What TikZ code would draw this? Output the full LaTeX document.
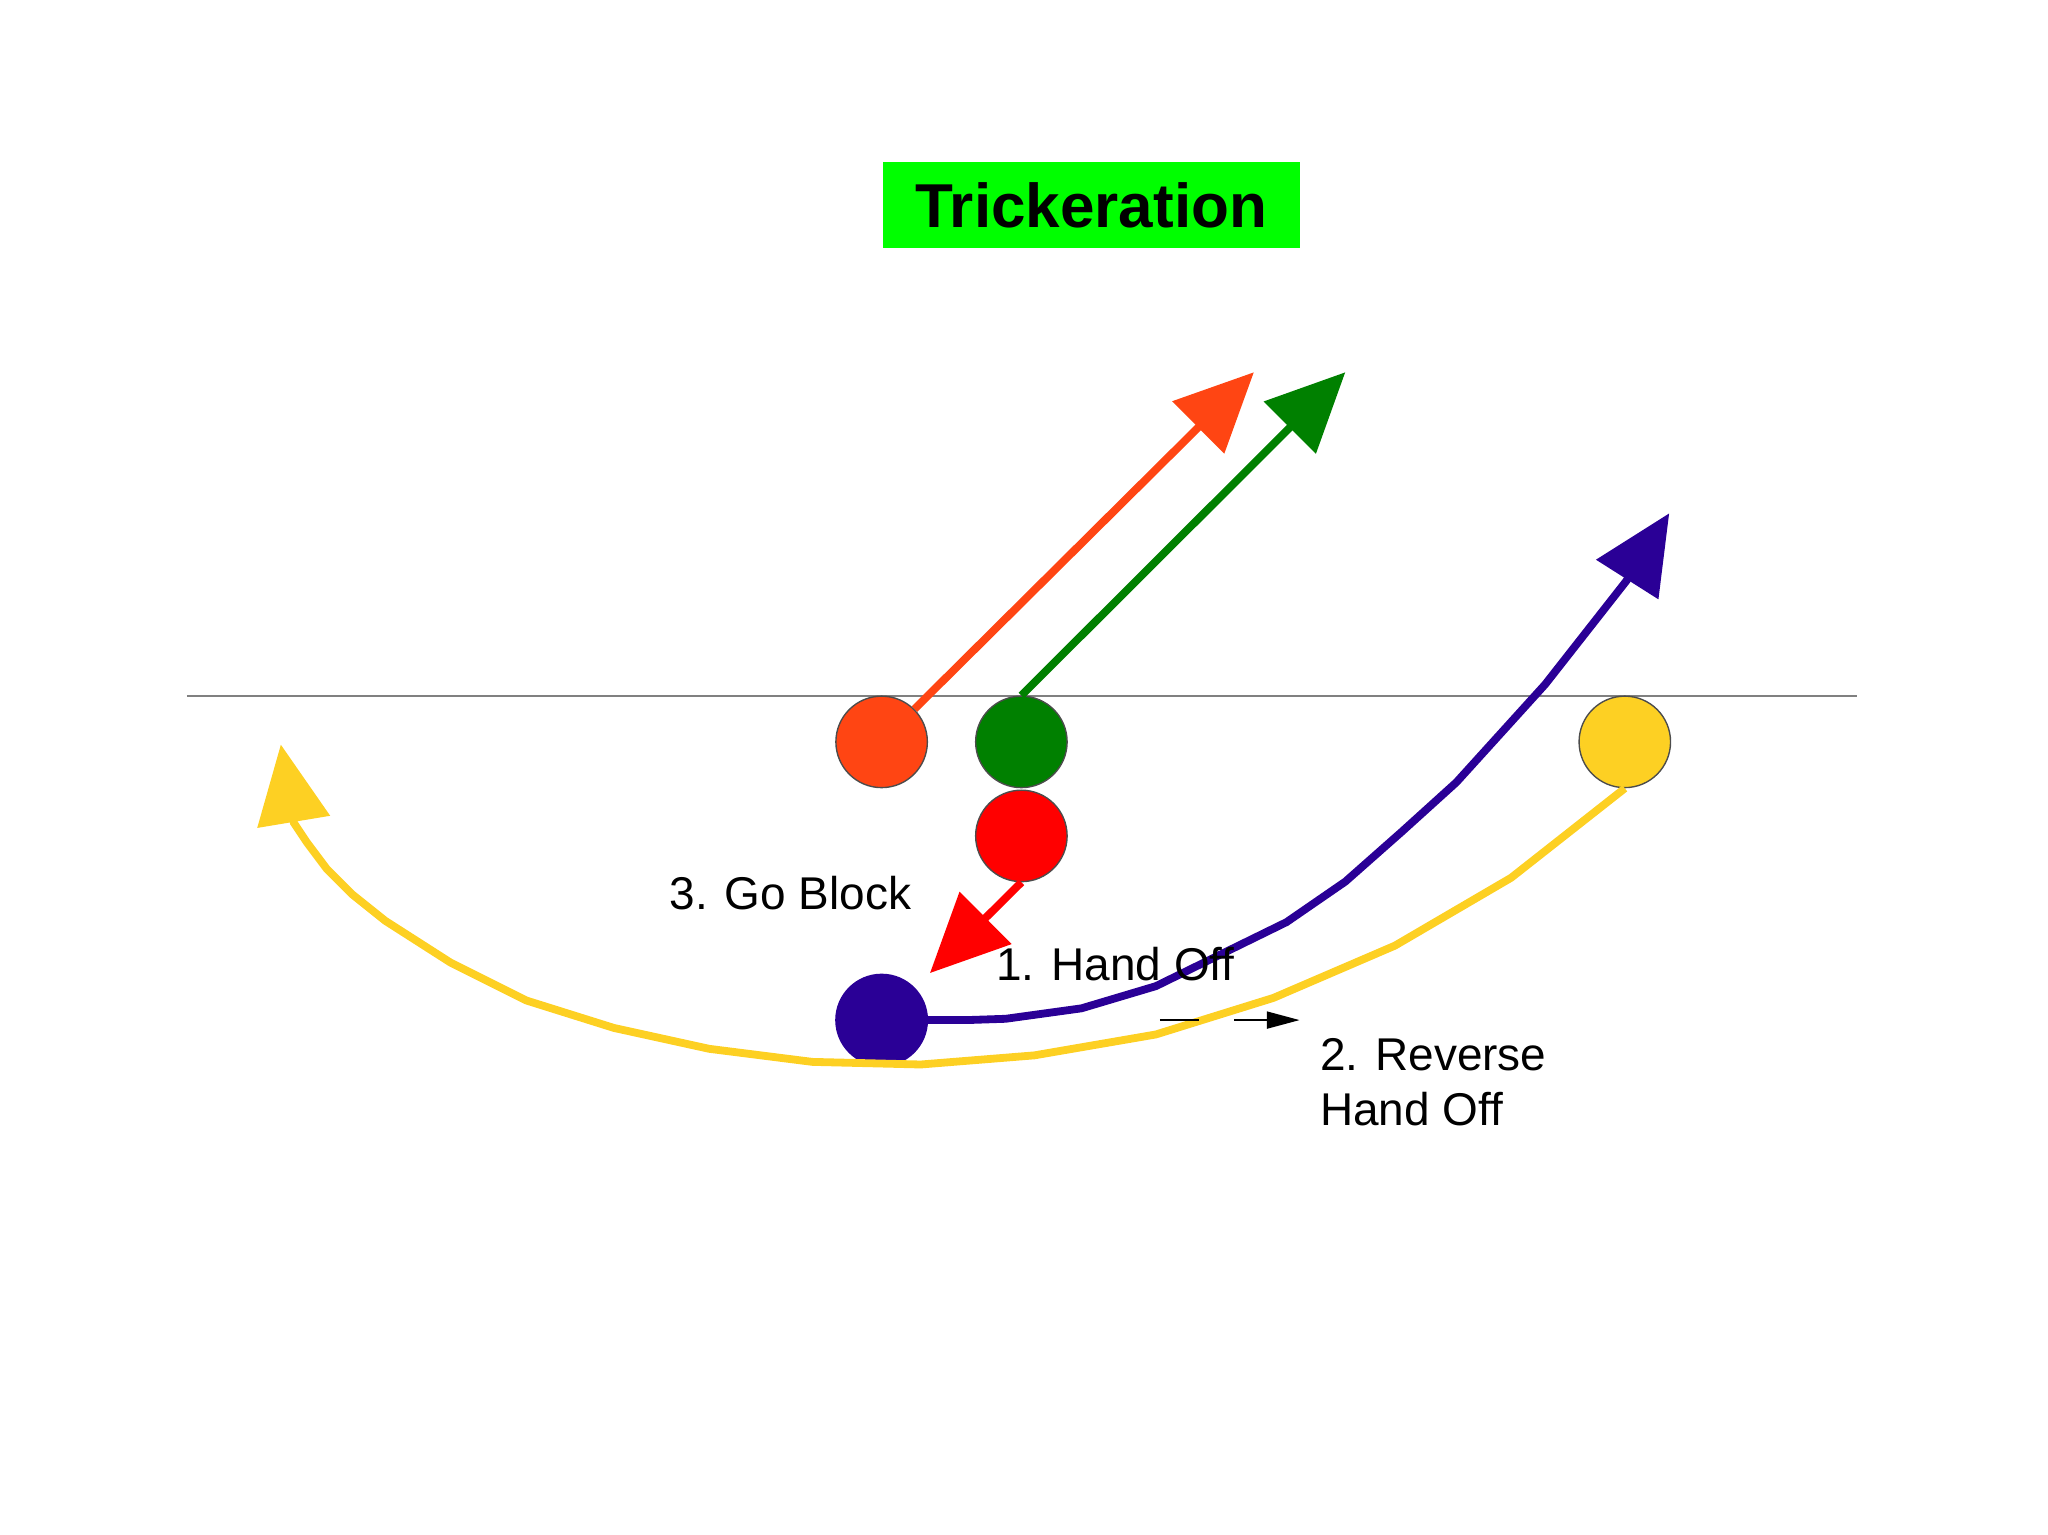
\documentclass[tikz,border=0pt]{standalone}
\usepackage{fontspec}
\setmainfont{Liberation Sans}
\usetikzlibrary{arrows.meta}
\definecolor{cOr}{HTML}{FF4513}
\definecolor{cGr}{HTML}{008000}
\definecolor{cRd}{HTML}{FF0000}
\definecolor{cBl}{HTML}{2A0096}
\definecolor{cYe}{HTML}{FDD023}
\definecolor{cTi}{HTML}{00FF00}
\begin{document}
\begin{tikzpicture}[x=0.01cm,y=-0.01cm,
  player/.style={circle,minimum size=0.7cm,inner sep=0pt,draw=black!70,line width=0.3pt},
  route/.style={line width=1.7pt,-{Triangle[length=0.6cm,width=0.55cm]}},
  lbl/.style={font=\fontsize{10}{12}\selectfont,anchor=west,inner sep=0pt}]
\useasboundingbox (0,0) rectangle (1568,1175);
\node[fill=cTi,minimum width=3.19cm,minimum height=0.66cm,font=\fontsize{13.5}{15}\selectfont\bfseries] (title) at (835.5,157) {Trickeration};
\coordinate (l1) at (143,533); \coordinate (l2) at (1422,533);
\draw[gray,line width=0.4pt] (l1) -- (l2);
\node[player,fill=cOr] (o) at (675,568) {};
\node[player,fill=cGr] (g) at (782,568) {};
\node[player,fill=cRd] (r) at (782,640) {};
\node[player,fill=cBl,draw=cBl] (b) at (675,781) {};
\node[player,fill=cYe] (y) at (1244,568) {};
\coordinate (ot) at (960,285);
\coordinate (gt) at (1030,285);
\coordinate (rt) at (712,745);
\draw[route,cOr] (o.north east) -- (ot);
\draw[route,cGr] (g.north) -- (gt);
\draw[route,cRd] (r.south) -- (rt);
\draw[route,cBl] (b.east) -- (740,781) -- (770,780) -- (828,772) -- (885,755) -- (985,706) -- (1030,675) -- (1073,637) -- (1115,599) -- (1183,524) -- (1245,445) -- (1278,393);
\draw[route,cYe] (y.south) -- (1157,672) -- (1068,724) -- (975,764) -- (885,792) -- (792,808) -- (705,815) -- (622,813) -- (543,803) -- (470,787) -- (403,766) -- (345,737) -- (295,705) -- (270,685) -- (250,665) -- (235,645) -- (225,630) -- (215,570);
\coordinate (a1) at (888,781); \coordinate (a2) at (995,781);
\draw[line width=0.4pt,dash pattern=on 30pt off 0pt] (a1) -- (918,781);
\draw[line width=0.4pt,-{Triangle[length=0.25cm,width=0.13cm]}] (945,781) -- (a2);
\node[lbl] (t3) at (512,684) {3. Go Block};
\node[lbl] (t1) at (762,738) {1. Hand Off};
\node[lbl,align=left,anchor=north west] (t2) at (1010,794) {2. Reverse\\Hand Off};
\end{tikzpicture}
\end{document}
